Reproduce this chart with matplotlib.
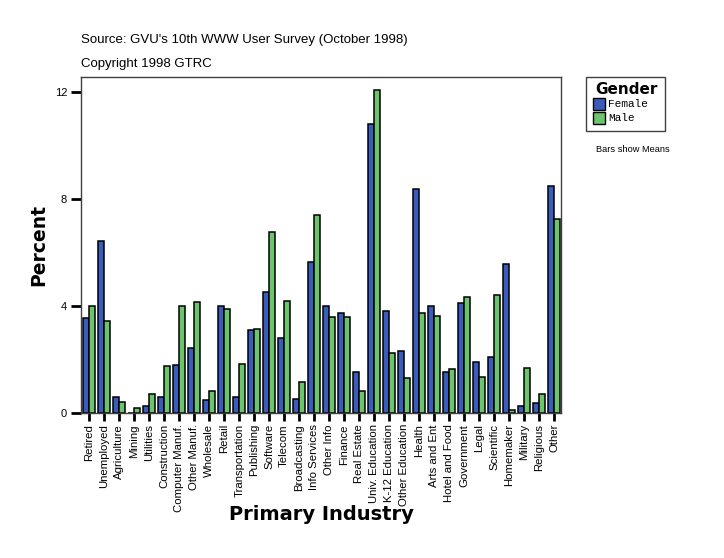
import matplotlib
matplotlib.use("Agg")
import matplotlib.pyplot as plt
import numpy as np
from matplotlib.patches import Rectangle

categories = ["Retired", "Unemployed", "Agriculture", "Mining", "Utilities", "Construction",
              "Computer Manuf.", "Other Manuf.", "Wholesale", "Retail", "Transportation",
              "Publishing", "Software", "Telecom", "Broadcasting", "Info Services", "Other Info",
              "Finance", "Real Estate", "Univ. Education", "K-12 Education", "Other Education",
              "Health", "Arts and Ent", "Hotel and Food", "Government", "Legal", "Scientific",
              "Homemaker", "Military", "Religious", "Other"]
female = [3.55, 6.42, 0.60, 0.0, 0.27, 0.60, 1.81, 2.43, 0.49, 3.99, 0.60, 3.10, 4.52, 2.80,
          0.52, 5.64, 3.99, 3.74, 1.53, 10.80, 3.81, 2.32, 8.37, 3.99, 1.53, 4.11, 1.91, 2.09,
          5.57, 0.26, 0.37, 8.49]
male = [3.99, 3.43, 0.40, 0.19, 0.72, 1.74, 3.99, 4.15, 0.82, 3.89, 1.83, 3.14, 6.75, 4.19,
        1.15, 7.40, 3.58, 3.58, 0.81, 12.06, 2.23, 1.31, 3.73, 3.63, 1.64, 4.34, 1.35, 4.41,
        0.10, 1.68, 0.71, 7.25]
yticks = [0, 4, 8, 12]

c_f = "#3a5cbc"
c_m = "#6cc46c"

fig = plt.figure(figsize=(7.24, 5.58), dpi=100)
W, H = 724, 558
ax = fig.add_axes([81 / W, 1 - 413 / H, (561 - 81) / W, (413 - 77) / H])

x = np.arange(len(categories))
bw = 0.40
ax.bar(x - bw / 2, female, width=bw, color=c_f, edgecolor="black", linewidth=1.1)
ax.bar(x + bw / 2, male, width=bw, color=c_m, edgecolor="black", linewidth=1.1)

ax.set_xlim(-0.55, len(categories) - 1 + 0.46)
ax.set_ylim(0, 12.56)
ax.set_yticks(yticks)
ax.set_yticklabels([str(v) for v in yticks], fontsize=8, family="Liberation Sans")
ax.set_xticks(x)
ax.set_xticklabels(categories, rotation=90, fontsize=8.2, family="Liberation Sans")
ax.tick_params(axis="y", direction="out", length=7, width=2, pad=3)
ax.tick_params(axis="x", direction="out", length=6, width=2, pad=2)
for s in ax.spines.values():
    s.set_color("#404040")
    s.set_linewidth(1.0)

fig.text(81 / W, 1 - 40 / H, "Source: GVU's 10th WWW User Survey (October 1998)",
         fontsize=9.5, family="Liberation Sans", va="center", ha="left")
fig.text(81 / W, 1 - 64 / H, "Copyright 1998 GTRC",
         fontsize=9.5, family="Liberation Sans", va="center", ha="left")

fig.text(321 / W, 1 - 514 / H, "Primary Industry", fontsize=14, fontweight="heavy",
         family="DejaVu Sans", ha="center", va="center")
fig.text(39 / W, 1 - 245 / H, "Percent", fontsize=13.5, fontweight="heavy",
         family="DejaVu Sans", ha="center", va="center", rotation=90)

# legend box
lx0, ly0, lx1, ly1 = 586, 77, 665, 131
fig.patches.append(Rectangle((lx0 / W, 1 - ly1 / H), (lx1 - lx0) / W, (ly1 - ly0) / H,
                             transform=fig.transFigure, facecolor="white",
                             edgecolor="#404040", linewidth=1.0))
fig.text(626 / W, 1 - 89 / H, "Gender", fontsize=11, fontweight="heavy",
         family="DejaVu Sans", ha="center", va="center")
for i, (lab, col) in enumerate([("Female", c_f), ("Male", c_m)]):
    yc = 104 + i * 14
    fig.patches.append(Rectangle((593 / W, 1 - (yc + 6) / H), 12 / W, 12 / H,
                                 transform=fig.transFigure, facecolor=col,
                                 edgecolor="black", linewidth=1.0))
    fig.text(608 / W, 1 - yc / H, lab, fontsize=8, family="Liberation Mono",
             ha="left", va="center")
fig.text(596 / W, 1 - 149 / H, "Bars show Means", fontsize=6.7, family="Liberation Sans",
         ha="left", va="center")

fig.savefig("out.png", dpi=100)
